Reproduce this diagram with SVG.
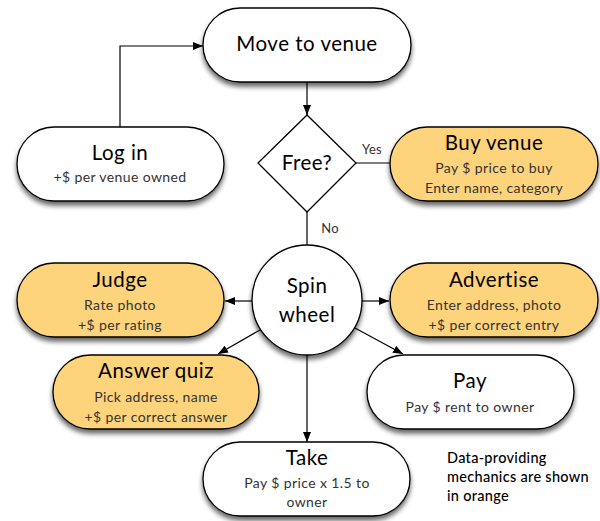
<svg xmlns="http://www.w3.org/2000/svg" width="600" height="521" viewBox="0 0 600 521">
<defs>
<filter id="sh" x="-20%" y="-20%" width="140%" height="160%">
<feGaussianBlur in="SourceAlpha" stdDeviation="2.5"/>
<feOffset dx="0" dy="4" result="b"/>
<feComponentTransfer><feFuncA type="linear" slope="0.6"/></feComponentTransfer>
<feMerge><feMergeNode/><feMergeNode in="SourceGraphic"/></feMerge>
</filter>
<marker id="ah" viewBox="0 0 10 8" refX="10" refY="4" markerWidth="10" markerHeight="8" markerUnits="userSpaceOnUse" orient="auto">
<path d="M0,0 L10,4 L0,8 z" fill="#000"/>
</marker>
<style>
.box{stroke:#000;stroke-width:1.3;filter:url(#sh)}
.w{fill:#fff}
.o{fill:#FDD37B}
.t{font-family:Lato,"Noto Sans",sans-serif;font-size:20.5px;letter-spacing:0.5px;fill:#000;text-anchor:middle}
.s{font-family:Lato,"Noto Sans",sans-serif;font-size:14px;letter-spacing:0.4px;fill:#333;text-anchor:middle}
.l{font-family:Lato,"Noto Sans",sans-serif;font-size:13px;letter-spacing:0.3px;fill:#333;text-anchor:middle}
.n{font-family:Lato,"Noto Sans",sans-serif;font-size:14.5px;font-weight:500;letter-spacing:0.3px;fill:#000}
.c{fill:none;stroke:#000;stroke-width:1.2}
</style>
</defs>
<rect width="600" height="521" fill="#fff"/>
<g id="connectors">
<path class="c" d="M120,127 V46 H203" marker-end="url(#ah)"/>
<path class="c" d="M307,82 V115" marker-end="url(#ah)"/>
<path class="c" d="M356,163 H390"/>
<path class="c" d="M307,212 V246"/>
<path class="c" d="M252,301 H225" marker-end="url(#ah)"/>
<path class="c" d="M362,301 H389" marker-end="url(#ah)"/>
<path class="c" d="M260,330 L218,354" marker-end="url(#ah)"/>
<path class="c" d="M355,328 L403,354" marker-end="url(#ah)"/>
<path class="c" d="M307,355 V442" marker-end="url(#ah)"/>
<text class="l" x="372" y="154">Yes</text>
<text class="l" x="330" y="233">No</text>
</g>
<g id="move">
<rect class="box w" x="203" y="8" width="208" height="74" rx="37"/>
<text class="t" x="307" y="51">Move to venue</text>
</g>
<g id="login">
<rect class="box w" x="17" y="127" width="207" height="74" rx="37"/>
<text class="t" x="120" y="160">Log in</text>
<text class="s" x="120" y="182">+$ per venue owned</text>
</g>
<g id="free">
<path d="M307,115 L356,163 L307,212 L258,163 Z" fill="#fff" stroke="#000" stroke-width="1.3"/>
<text class="t" x="307" y="170">Free?</text>
</g>
<g id="buy">
<rect class="box o" x="390" y="127" width="208" height="74" rx="37"/>
<text class="t" x="494" y="150">Buy venue</text>
<text class="s" x="494" y="173">Pay $ price to buy</text>
<text class="s" x="494" y="193">Enter name, category</text>
</g>
<g id="spin">
<circle class="box w" cx="307" cy="300" r="55"/>
<text class="t" x="307" y="293">Spin</text>
<text class="t" x="307" y="322">wheel</text>
</g>
<g id="judge">
<rect class="box o" x="17" y="263" width="207" height="74" rx="37"/>
<text class="t" x="120" y="287">Judge</text>
<text class="s" x="120" y="310">Rate photo</text>
<text class="s" x="120" y="330">+$ per rating</text>
</g>
<g id="advertise">
<rect class="box o" x="390" y="263" width="208" height="74" rx="37"/>
<text class="t" x="494" y="287">Advertise</text>
<text class="s" x="494" y="310">Enter address, photo</text>
<text class="s" x="494" y="330">+$ per correct entry</text>
</g>
<g id="quiz">
<rect class="box o" x="53" y="355" width="206" height="74" rx="37"/>
<text class="t" x="156" y="378">Answer quiz</text>
<text class="s" x="156" y="402">Pick address, name</text>
<text class="s" x="156" y="422">+$ per correct answer</text>
</g>
<g id="pay">
<rect class="box w" x="367" y="355" width="207" height="74" rx="37"/>
<text class="t" x="470" y="388">Pay</text>
<text class="s" x="470" y="412">Pay $ rent to owner</text>
</g>
<g id="take">
<rect class="box w" x="203" y="442" width="207" height="74" rx="37"/>
<text class="t" x="307" y="465">Take</text>
<text class="s" x="307" y="488">Pay $ price x 1.5 to</text>
<text class="s" x="307" y="507">owner</text>
</g>
<g id="note">
<text class="n" x="447" y="463">Data-providing</text>
<text class="n" x="447" y="482">mechanics are shown</text>
<text class="n" x="447" y="501">in orange</text>
</g>
</svg>
